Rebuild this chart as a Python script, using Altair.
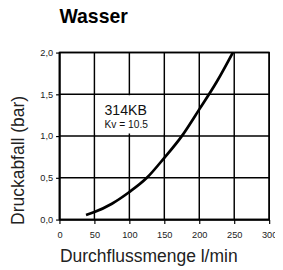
import altair as alt
import pandas as pd

flow = [38, 50, 75, 100, 125, 150, 175, 200, 225, 248]
drop = [0.055, 0.09, 0.19, 0.33, 0.50, 0.74, 1.0, 1.32, 1.65, 2.0]

x_ticks = [0, 50, 100, 150, 200, 250, 300]
y_ticks = [0.0, 0.5, 1.0, 1.5, 2.0]

label_model = "314KB"
label_kv = "Kv = 10.5"

df = pd.DataFrame({"q": flow, "p": drop})

xs = alt.Scale(domain=[0, 300], nice=False)
ys = alt.Scale(domain=[0, 2], nice=False)

xaxis = alt.Axis(values=x_ticks, title="Durchflussmenge l/min", titleAnchor="start",
                 titleFontSize=18, titleFontWeight="normal", titleColor="#222",
                 labelFontSize=9.5, labelColor="#222", tickSize=4, labelPadding=6.5,
                 titlePadding=9, grid=False, domainColor="black", domainWidth=1.5,
                 tickColor="black", tickWidth=1.2, labelOverlap=False, labelFlush=False)
yaxis = alt.Axis(values=y_ticks, title="Druckabfall (bar)", titleAnchor="start", titleY=177,
                 titleFontSize=18, titleFontWeight="normal", titleColor="#222",
                 labelFontSize=9.5, labelColor="#222", tickSize=4, labelPadding=3,
                 titlePadding=13, grid=False, domainColor="black", domainWidth=1.5,
                 tickColor="black", tickWidth=1.2, labelOverlap=False, labelFlush=False,
                 labelExpr="replace(format(datum.value, '.1f'), '.', ',')")

vgrid = alt.Chart(pd.DataFrame({"v": x_ticks})).mark_rule(color="black", strokeWidth=1.5).encode(
    x=alt.X("v:Q", scale=xs, axis=xaxis))
hgrid = alt.Chart(pd.DataFrame({"h": y_ticks})).mark_rule(color="black", strokeWidth=1.5).encode(
    y=alt.Y("h:Q", scale=ys, axis=yaxis))

box = alt.Chart(pd.DataFrame({"x": [51.5], "x2": [148.5], "y": [1.03], "y2": [1.488]})).mark_rect(
    color="white").encode(
    x=alt.X("x:Q", scale=xs, axis=xaxis), x2="x2", y=alt.Y("y:Q", scale=ys, axis=yaxis), y2="y2")

line = alt.Chart(df).mark_line(color="black", strokeWidth=2.8, interpolate="monotone").encode(
    x=alt.X("q:Q", scale=xs, axis=xaxis), y=alt.Y("p:Q", scale=ys, axis=yaxis))

t1 = alt.Chart(pd.DataFrame({"x": [64.5], "y": [1.256], "t": [label_model]})).mark_text(
    align="left", baseline="alphabetic", fontSize=14.5, font="Liberation Sans", color="#111").encode(
    x=alt.X("x:Q", scale=xs, axis=xaxis), y=alt.Y("y:Q", scale=ys, axis=yaxis), text="t:N")
t2 = alt.Chart(pd.DataFrame({"x": [64.5], "y": [1.1], "t": [label_kv]})).mark_text(
    align="left", baseline="alphabetic", fontSize=10.5, font="Liberation Sans", color="#111").encode(
    x=alt.X("x:Q", scale=xs, axis=xaxis), y=alt.Y("y:Q", scale=ys, axis=yaxis), text="t:N")

chart = alt.layer(vgrid, hgrid, box, line, t1, t2).properties(
    width=216, height=172,
    title=alt.Title("Wasser", anchor="start", frame="group", fontSize=20, fontWeight="bold",
                    font="Liberation Sans", offset=21, color="black"),
    autosize=alt.AutoSizeParams(type="none"),
    padding={"left": 53, "top": 42, "right": 6, "bottom": 48},
).configure_view(stroke="black", strokeWidth=1.5).configure_axis(
    labelFont="Liberation Sans", titleFont="Liberation Sans")

chart.save("out.html", embed_options={"renderer": "svg", "actions": False})
